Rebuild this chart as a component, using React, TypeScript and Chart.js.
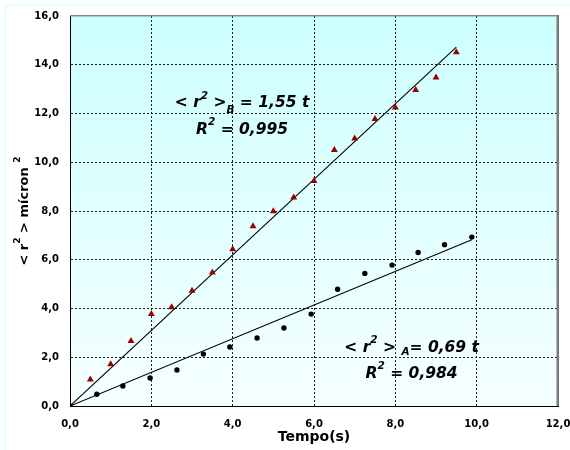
import { useEffect, useRef } from "react";
import { Chart, registerables } from "chart.js";

Chart.register(...registerables);

// Series A (black circles)
const timeA = [0, 0.66, 1.3, 1.97, 2.63, 3.28, 3.93, 4.6, 5.26, 5.93, 6.58, 7.25, 7.92, 8.56, 9.21, 9.88];
const valuesA = [0, 0.48, 0.82, 1.15, 1.48, 2.13, 2.42, 2.79, 3.2, 3.77, 4.79, 5.44, 5.78, 6.3, 6.62, 6.93];
// Series B (dark red triangles)
const timeB = [0, 0.5, 1, 1.5, 2, 2.5, 3, 3.5, 4, 4.5, 5, 5.5, 6, 6.5, 7, 7.5, 8, 8.5, 9, 9.5];
const valuesB = [0, 1.09, 1.71, 2.67, 3.77, 4.05, 4.73, 5.48, 6.43, 7.37, 7.99, 8.55, 9.23, 10.5, 10.97, 11.77, 12.25, 12.96, 13.48, 14.51];
// Linear fits through origin
const slopeA = 0.69;
const slopeB = 1.55;

const xTickLabels = ["0,0", "2,0", "4,0", "6,0", "8,0", "10,0", "12,0"];
const yTickLabels = ["0,0", "2,0", "4,0", "6,0", "8,0", "10,0", "12,0", "14,0", "16,0"];

const xTitle = "Tempo(s)";

type Seg = { t: string; k: "n" | "sup" | "sub"; dy?: number };
const yTitleSegs: Seg[] = [
  { t: "< r", k: "n" },
  { t: "2", k: "sup", dy: -8 },
  { t: " > m\u00edcron ", k: "n" },
  { t: "2", k: "sup", dy: -8 },
];
const eqB: Seg[] = [
  { t: "< r", k: "n" },
  { t: "2", k: "sup", dy: -7.5 },
  { t: " >", k: "n" },
  { t: "B", k: "sub", dy: 6 },
  { t: " = 1,55 t", k: "n" },
];
const r2B: Seg[] = [
  { t: "R", k: "n" },
  { t: "2", k: "sup", dy: -9 },
  { t: " = 0,995", k: "n" },
];
const eqA: Seg[] = [
  { t: "< r", k: "n" },
  { t: "2", k: "sup", dy: -9 },
  { t: " > ", k: "n" },
  { t: "A", k: "sub", dy: 3 },
  { t: "= 0,69 t", k: "n" },
];
const r2A: Seg[] = [
  { t: "R", k: "n" },
  { t: "2", k: "sup", dy: -9 },
  { t: " = 0,984", k: "n" },
];

const FAMILY = "'DejaVu Sans', 'Liberation Sans', Arial, sans-serif";

export default function App() {
  const ref = useRef<HTMLCanvasElement | null>(null);

  useEffect(() => {
    const canvas = ref.current;
    if (!canvas) return;

    const bgPlugin = {
      id: "bgPlugin",
      beforeDraw(chart: any) {
        const { ctx, chartArea } = chart;
        const { left, top, right, bottom } = chartArea;
        ctx.save();
        ctx.fillStyle = "#ffffff";
        ctx.fillRect(0, 0, chart.width, chart.height);
        ctx.strokeStyle = "#e2ffff";
        ctx.lineWidth = 2;
        ctx.beginPath();
        ctx.moveTo(5, chart.height);
        ctx.lineTo(5, 5);
        ctx.lineTo(chart.width, 5);
        ctx.stroke();
        const g = ctx.createLinearGradient(0, top, 0, bottom);
        g.addColorStop(0, "#ccffff");
        g.addColorStop(1, "#f6ffff");
        ctx.fillStyle = g;
        ctx.fillRect(left, top, right - left, bottom - top);
        ctx.restore();
      },
      beforeDatasetsDraw(chart: any) {
        const { ctx, chartArea } = chart;
        const { left, top, right, bottom } = chartArea;
        ctx.save();
        ctx.fillStyle = "#8a8a8a";
        ctx.fillRect(left, top - 1, right - left + 1, 1.5);
        ctx.fillStyle = "#7a7a7a";
        ctx.fillRect(right - 1.5, top - 1, 2.5, bottom - top + 1);
        ctx.restore();
      },
    };

    const drawSegs = (
      ctx: CanvasRenderingContext2D,
      segs: Seg[],
      cx: number,
      by: number,
      normal: string,
      small: string
    ) => {
      let total = 0;
      const widths = segs.map((s) => {
        ctx.font = s.k === "n" ? normal : small;
        const w = ctx.measureText(s.t).width;
        total += w;
        return w;
      });
      let x = cx - total / 2;
      segs.forEach((s, i) => {
        ctx.font = s.k === "n" ? normal : small;
        ctx.fillText(s.t, x, by + (s.dy || 0));
        x += widths[i];
      });
    };

    const annNormal = `italic bold 15.5px ${FAMILY}`;
    const annSmall = `italic bold 10.5px ${FAMILY}`;

    const annotationPlugin = {
      id: "annotationPlugin",
      afterDatasetsDraw(chart: any) {
        const { ctx, scales, chartArea } = chart;
        const xs = scales.x;
        const ys = scales.y;
        ctx.save();
        ctx.fillStyle = "#000";
        ctx.textBaseline = "alphabetic";
        ctx.textAlign = "left";
        drawSegs(ctx, eqB, xs.getPixelForValue(4.23), ys.getPixelForValue(12.27), annNormal, annSmall);
        drawSegs(ctx, r2B, xs.getPixelForValue(4.23), ys.getPixelForValue(11.16), annNormal, annSmall);
        drawSegs(ctx, eqA, xs.getPixelForValue(8.4), ys.getPixelForValue(2.215), annNormal, annSmall);
        drawSegs(ctx, r2A, xs.getPixelForValue(8.4), ys.getPixelForValue(1.15), annNormal, annSmall);
        // y axis title (rotated, with superscripts)
        ctx.translate(28, (chartArea.top + chartArea.bottom) / 2);
        ctx.rotate(-Math.PI / 2);
        drawSegs(ctx, yTitleSegs, 0, 0, `bold 13px ${FAMILY}`, `bold 9px ${FAMILY}`);
        ctx.restore();
      },
    };

    const endA = timeA[timeA.length - 1];
    const endB = timeB[timeB.length - 1];
    const fitA = [0, endA].map((x) => ({ x, y: slopeA * x }));
    const fitB = [0, endB].map((x) => ({ x, y: slopeB * x }));

    const gridColor = (max: number) => (c: any) =>
      c.tick && (c.tick.value === max || c.tick.value === 0) ? "rgba(0,0,0,0)" : "#1a1a1a";

    const tickFont = { family: FAMILY, weight: "bold" as const, size: 10 };

    const chart = new Chart(canvas, {
      type: "scatter",
      data: {
        datasets: [
          {
            label: "A",
            data: timeA.map((x, i) => ({ x, y: valuesA[i] })),
            pointStyle: "circle",
            pointRadius: 2.7,
            backgroundColor: "#000000",
            borderColor: "#000000",
            borderWidth: 0,
          },
          {
            label: "B",
            data: timeB.map((x, i) => ({ x, y: valuesB[i] })),
            pointStyle: "triangle",
            pointRadius: 4,
            backgroundColor: "#990000",
            borderColor: "#990000",
            borderWidth: 0,
          },
          {
            label: "fitA",
            data: fitA,
            showLine: true,
            borderColor: "#000000",
            borderWidth: 1.1,
            pointRadius: 0,
          },
          {
            label: "fitB",
            data: fitB,
            showLine: true,
            borderColor: "#000000",
            borderWidth: 1.1,
            pointRadius: 0,
          },
        ],
      },
      options: {
        animation: false,
        responsive: false,
        layout: { padding: { top: 16, right: 12, left: 0, bottom: 0 } },
        plugins: { legend: { display: false }, tooltip: { enabled: false } },
        scales: {
          x: {
            type: "linear",
            min: 0,
            max: 12,
            ticks: {
              stepSize: 2,
              font: tickFont,
              color: "#000",
              padding: 12,
              maxRotation: 0,
              callback: (_v: any, i: number) => xTickLabels[i],
            },
            grid: { color: gridColor(12), lineWidth: 1, drawTicks: false },
            border: { display: true, color: "#000", width: 1, dash: [2, 2] },
            title: {
              display: true,
              text: xTitle,
              color: "#000",
              font: { family: FAMILY, weight: "bold", size: 14 },
              padding: { top: 0, bottom: 4 },
            },
            afterFit: (s: any) => {
              s.height = 44;
              s.paddingLeft = 0;
              s.paddingRight = 0;
            },
          },
          y: {
            type: "linear",
            min: 0,
            max: 16,
            ticks: {
              stepSize: 2,
              font: tickFont,
              color: "#000",
              padding: 11,
              callback: (_v: any, i: number) => yTickLabels[i],
            },
            grid: { color: gridColor(16), lineWidth: 1, drawTicks: false },
            border: { display: true, color: "#000", width: 1, dash: [2, 2] },
            title: { display: false },
            afterFit: (s: any) => {
              s.width = 70;
              s.paddingTop = 0;
              s.paddingBottom = 0;
            },
          },
        },
      } as any,
      plugins: [bgPlugin, annotationPlugin],
    });

    return () => chart.destroy();
  }, []);

  return (
    <div style={{ position: "absolute", left: 0, top: 0, width: 570, height: 450 }}>
      <canvas ref={ref} width={570} height={450} style={{ display: "block", width: 570, height: 450 }} />
    </div>
  );
}
